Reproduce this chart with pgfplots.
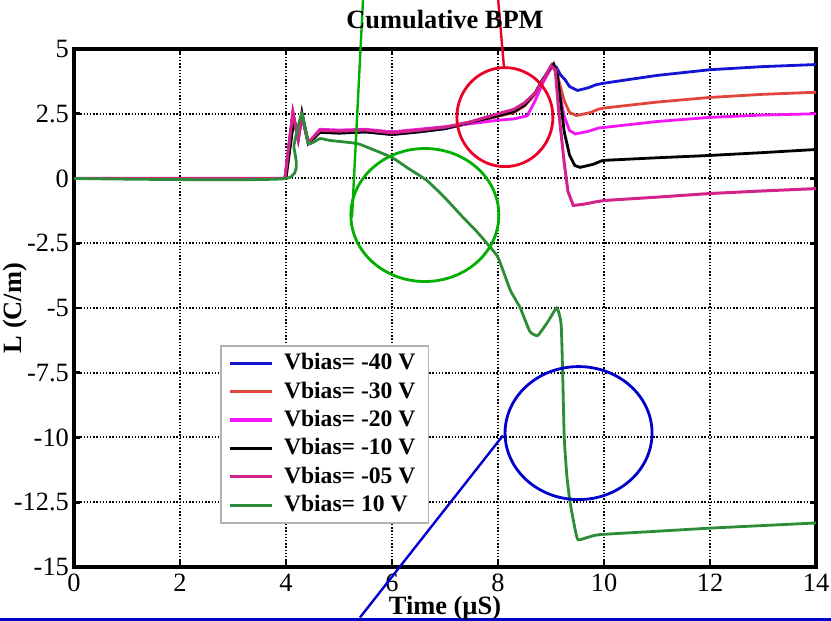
\documentclass[border=0pt]{standalone}
\usepackage{fontspec}
\setmainfont{Liberation Serif}
\usepackage{pgfplots}
\pgfplotsset{compat=1.18}
\definecolor{vb40}{RGB}{20,20,210}
\definecolor{vb30}{RGB}{225,70,60}
\definecolor{vb20}{RGB}{245,20,245}
\definecolor{vb05}{RGB}{210,35,140}
\definecolor{vb10}{RGB}{45,140,55}
\definecolor{annG}{RGB}{0,175,0}
\definecolor{annR}{RGB}{235,0,40}
\definecolor{annB}{RGB}{0,0,205}

\begin{document}
\begin{tikzpicture}
\path[use as bounding box] (0,0) rectangle (415.5pt,310.5pt);
\begin{axis}[
  at={(37pt,27pt)}, anchor=south west,
  width=371pt, height=259pt, scale only axis,
  xmin=0, xmax=14, ymin=-15, ymax=5,
  xtick={0,2,...,14},
  ytick={-15,-12.5,-10,-7.5,-5,-2.5,0,2.5,5},
  /pgf/number format/assume math mode=true,
  tick label style={font=\fontsize{13.2}{15}\selectfont},
  yticklabel style={xshift=1pt},
  tick align=inside, major tick length=3pt,
  every tick/.style={black, line width=1.4pt},
  axis line style={line width=1.8pt},
  grid=major,
  major grid style={black, line width=1pt, dash pattern=on 0.7pt off 0.9pt},
  title={Cumulative BPM},
  title style={at={(axis description cs:0.5,1)}, anchor=base, yshift=4pt,
    font=\bfseries\fontsize{13.2}{15}\selectfont},
  xlabel={Time (µS)},
  xlabel style={at={(axis description cs:0.5,0)}, anchor=base, yshift=-24pt,
    font=\bfseries\fontsize{13.2}{15}\selectfont},
  ylabel={L (C/m)},
  ylabel style={at={(axis description cs:-0.0795,0.5)}, anchor=center,
    font=\bfseries\fontsize{13.2}{15}\selectfont},
  legend style={at={(rel axis cs:0.1968,0.4286)}, anchor=north west,
    draw=gray!60, line width=0.8pt, inner xsep=4pt, inner ysep=2pt,
    font=\bfseries\fontsize{11.8}{14}\selectfont,
    nodes={inner xsep=2.5pt, inner ysep=1pt, text height=9pt, text depth=2.5pt},
    column sep=2.5pt, row sep=0.7pt},
  legend cell align=left,
  legend image code/.code={\draw[#1, line width=1.6pt] (0pt,0pt) -- (21pt,0pt);},
  clip=false,
]

% Vbias = -40 V
\addplot[vb40, line width=1.4pt] coordinates {
  (0,0) (3.98,0) (4.13,2.5) (4.23,1.5) (4.3,2.45) (4.42,1.4) (4.64,1.8)
  (5.0,1.76) (5.5,1.8) (6.0,1.7) (6.5,1.8) (7.0,1.92) (7.5,2.16) (8.0,2.43)
  (8.3,2.63) (8.5,2.86) (8.7,3.3) (8.85,3.8) (9.02,4.4) (9.1,4.3) (9.18,4.0)
  (9.27,3.8) (9.35,3.55) (9.5,3.4) (9.7,3.5) (9.85,3.62) (10,3.68) (11,3.98)
  (12,4.2) (13,4.32) (14,4.4)
};
\addlegendentry{Vbias= -40 V}

% Vbias = -30 V
\addplot[vb30, line width=1.4pt] coordinates {
  (0,0) (3.98,0) (4.13,2.5) (4.23,1.5) (4.3,2.4) (4.42,1.4) (4.64,1.83)
  (5.0,1.8) (5.5,1.84) (6.0,1.74) (6.5,1.84) (7.0,1.96) (7.5,2.15) (8.0,2.4)
  (8.3,2.55) (8.5,2.8) (8.7,3.25) (8.85,3.8) (9.02,4.4) (9.1,4.2) (9.17,3.6)
  (9.25,3.0) (9.35,2.55) (9.48,2.43) (9.75,2.55) (9.9,2.68) (10,2.72)
  (11,2.95) (12,3.13) (13,3.25) (14,3.33)
};
\addlegendentry{Vbias= -30 V}

% Vbias = -20 V
\addplot[vb20, line width=1.4pt] coordinates {
  (0,0) (3.98,0) (4.13,2.55) (4.23,1.5) (4.3,2.4) (4.42,1.35) (4.64,1.9)
  (5.0,1.87) (5.5,1.9) (6.0,1.8) (6.5,1.9) (7.0,2.0) (7.5,2.12) (8.0,2.25)
  (8.3,2.3) (8.55,2.42) (8.7,3.0) (8.85,3.7) (9.02,4.35) (9.1,4.1) (9.16,3.3)
  (9.25,2.4) (9.35,1.85) (9.46,1.72) (9.7,1.82) (9.9,1.95) (10,1.97)
  (11,2.2) (12,2.36) (13,2.45) (14,2.5)
};
\addlegendentry{Vbias= -20 V}

% Vbias = -10 V
\addplot[black, line width=1.4pt] coordinates {
  (0,0) (4.0,0) (4.15,2.3) (4.23,1.6) (4.3,2.55) (4.42,1.35) (4.64,1.78)
  (5.0,1.75) (5.5,1.8) (6.0,1.7) (6.5,1.8) (7.0,1.93) (7.5,2.18) (8.0,2.42)
  (8.3,2.58) (8.5,2.83) (8.7,3.3) (8.85,3.85) (9.05,4.42) (9.12,4.0)
  (9.18,3.0) (9.25,1.8) (9.35,0.9) (9.45,0.5) (9.55,0.43) (9.8,0.55)
  (9.95,0.68) (10,0.7) (11,0.8) (12,0.89) (13,1.0) (14,1.12)
};
\addlegendentry{Vbias= -10 V}

% Vbias = -05 V
\addplot[vb05, line width=1.5pt] coordinates {
  (0,0) (3.98,0) (4.13,2.55) (4.23,1.5) (4.3,2.4) (4.42,1.4) (4.64,1.86)
  (5.0,1.83) (5.5,1.87) (6.0,1.76) (6.5,1.86) (7.0,1.98) (7.5,2.2) (8.0,2.5)
  (8.3,2.67) (8.5,2.92) (8.7,3.3) (8.85,3.8) (9.0,4.35) (9.08,4.2)
  (9.15,2.5) (9.25,0.6) (9.32,-0.5) (9.42,-1.04) (9.6,-1.0) (9.85,-0.9)
  (10,-0.85) (11,-0.72) (12,-0.58) (13,-0.48) (14,-0.39)
};
\addlegendentry{Vbias= -05 V}

% Vbias = 10 V
\addplot[vb10, line width=1.4pt, smooth, tension=0.3] coordinates {
  (0,0) (4.0,0) (4.15,1.3) (4.3,2.5) (4.42,1.35) (4.64,1.54) (4.83,1.47)
  (5.34,1.35) (5.6,1.15) (6.0,0.81) (6.3,0.4) (6.66,-0.08) (7.0,-0.75)
  (7.34,-1.5) (7.6,-2.05) (7.79,-2.5) (8.0,-3.05) (8.23,-4.3) (8.42,-5.0)
  (8.6,-5.9) (8.75,-6.06) (8.95,-5.5) (9.11,-5.0) (9.19,-5.6) (9.22,-7.5)
  (9.25,-10.0) (9.3,-11.5) (9.36,-12.5) (9.45,-13.5) (9.51,-13.95)
  (9.7,-13.85) (9.92,-13.75) (11,-13.62) (12,-13.5) (13,-13.4) (14,-13.3)
};
\addlegendentry{Vbias= 10 V}

% annotations
\draw[annR, line width=1.4pt] (axis cs:8.13,2.37) ellipse [x radius=24pt, y radius=24.75pt];
\draw[annR, line width=1.2pt] (axis cs:8.113,4.286) -- (axis cs:7.986,7.3);
\draw[annG, line width=1.4pt] (axis cs:6.62,-1.41) ellipse [x radius=37pt, y radius=33.25pt];
\draw[annG, line width=1.2pt] (axis cs:5.245,-1.506) -- (axis cs:5.463,7.3);
\draw[annB, line width=1.4pt] (axis cs:9.52,-9.83) ellipse [x radius=36.75pt, y radius=33.25pt];
\draw[annB, line width=1.2pt] (axis cs:8.094,-9.923) -- (axis cs:5.396,-16.95);
\draw[annB, line width=1.8pt] (axis cs:-1.5,-17.03) -- (axis cs:14.4,-17.03);
\end{axis}
\end{tikzpicture}
\end{document}
